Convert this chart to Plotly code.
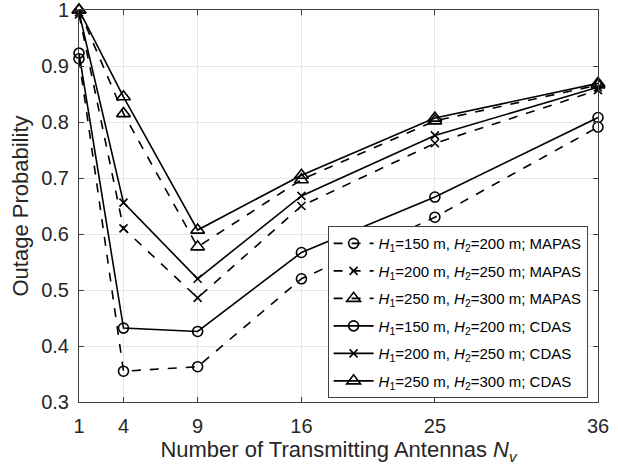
import plotly.graph_objects as go

antennas = [1, 4, 9, 16, 25, 36]

mapas_150_200 = [0.913, 0.355, 0.363, 0.520, 0.630, 0.791]
mapas_200_250 = [0.992, 0.610, 0.486, 0.650, 0.762, 0.857]
mapas_250_300 = [1.000, 0.815, 0.577, 0.697, 0.802, 0.866]
cdas_150_200 = [0.923, 0.432, 0.426, 0.567, 0.666, 0.808]
cdas_200_250 = [0.996, 0.656, 0.520, 0.668, 0.776, 0.862]
cdas_250_300 = [1.000, 0.845, 0.607, 0.705, 0.807, 0.869]

labels = [
    "<i>H</i><sub>1</sub>=150 m, <i>H</i><sub>2</sub>=200 m; MAPAS",
    "<i>H</i><sub>1</sub>=200 m, <i>H</i><sub>2</sub>=250 m; MAPAS",
    "<i>H</i><sub>1</sub>=250 m, <i>H</i><sub>2</sub>=300 m; MAPAS",
    "<i>H</i><sub>1</sub>=150 m, <i>H</i><sub>2</sub>=200 m; CDAS",
    "<i>H</i><sub>1</sub>=200 m, <i>H</i><sub>2</sub>=250 m; CDAS",
    "<i>H</i><sub>1</sub>=250 m, <i>H</i><sub>2</sub>=300 m; CDAS",
]

yticks = [0.3, 0.4, 0.5, 0.6, 0.7, 0.8, 0.9, 1.0]
ytick_text = ["0.3", "0.4", "0.5", "0.6", "0.7", "0.8", "0.9", "1"]

series = [mapas_150_200, mapas_200_250, mapas_250_300, cdas_150_200, cdas_200_250, cdas_250_300]
symbols = ["circle-open", "x-thin-open", "triangle-up-open"] * 2
dashes = ["dash"] * 3 + ["solid"] * 3
sizes = [10, 8, 12] * 2

FONT = "Liberation Sans, Arial, Helvetica"
TXT = "#262626"

fig = go.Figure()
for i, (ys, lab, sym, dsh, sz) in enumerate(zip(series, labels, symbols, dashes, sizes)):
    fig.add_trace(go.Scatter(
        x=antennas, y=ys, name=lab, mode="lines+markers", legendgroup=f"g{i}",
        cliponaxis=False,
        line=dict(color="black", width=1.6, dash=dsh),
        marker=dict(symbol=sym, size=sz, color="black", line=dict(color="black", width=1.6)),
    ))

axis_common = dict(
    showline=True, linecolor="#404040", linewidth=1, mirror="ticks",
    showgrid=True, gridcolor="#e6e6e6", gridwidth=1,
    ticks="inside", ticklen=5, tickcolor="#404040",
    tickfont=dict(family=FONT, size=20, color=TXT),
    ticklabeloverflow="allow",
    automargin=False,
    zeroline=False,
)

fig.update_layout(
    width=618, height=473,
    margin=dict(l=79, r=20, t=10, b=71, autoexpand=False),
    paper_bgcolor="white", plot_bgcolor="white",
    font=dict(family=FONT, color=TXT),
    xaxis=dict(range=[1, 36], tickvals=antennas, ticktext=[str(a) for a in antennas],
               ticklabelstandoff=6,
               title=dict(text="Number of Transmitting Antennas <i>N</i><sub><i>v</i></sub>",
                          font=dict(size=22, color=TXT), standoff=2),
               **axis_common),
    yaxis=dict(range=[0.3, 1.0], tickvals=yticks, ticktext=ytick_text,
               ticklabelstandoff=5,
               title=dict(text="Outage Probability", font=dict(size=22, color=TXT), standoff=6),
               **axis_common),
    legend=dict(x=0.479, y=0.01, xanchor="left", yanchor="bottom",
                bgcolor="white", bordercolor="#404040", borderwidth=1,
                font=dict(family=FONT, size=15, color="black"),
                tracegroupgap=5, itemwidth=40),
    showlegend=True,
)

fig.write_html("out.html")
